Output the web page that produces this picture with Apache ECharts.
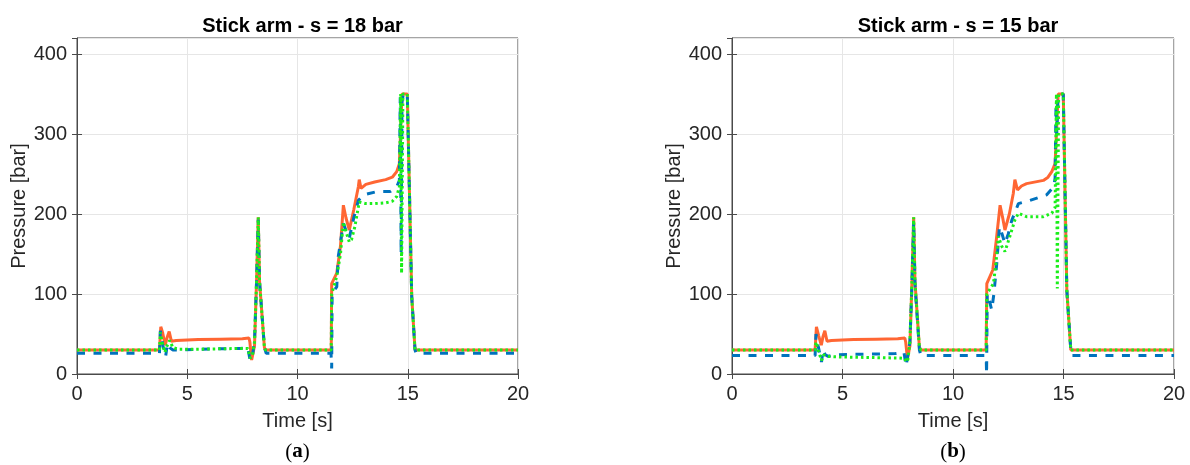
<!DOCTYPE html>
<html>
<head>
<meta charset="utf-8">
<script src="https://cdn.jsdelivr.net/npm/echarts@6/dist/echarts.min.js"></script>
<style>html,body{margin:0;padding:0;background:#fff;}#chart{width:1190px;height:465px;}</style>
</head>
<body>
<div id="chart"></div>
<script>
// ---- Tick labels / axes ----
const xTicks = [0, 5, 10, 15, 20];
const yTicks = [0, 100, 200, 300, 400];
const titles = ['Stick arm - s = 18 bar', 'Stick arm - s = 15 bar'];
const panelTags = ['a', 'b'];

// ---- (a) s = 18 bar ----
const aOrangeT = [0, 3.74, 3.8, 3.88, 4.0, 4.08, 4.18, 4.28, 4.5, 5.5, 6.5, 7.5, 7.8, 7.84, 7.92, 8.05, 8.14, 8.22, 8.28, 8.5, 8.55, 11.53, 11.55, 11.78, 11.95, 12.08, 12.2, 12.35, 12.55, 12.76, 12.8, 12.88, 13.1, 13.5, 14.0, 14.3, 14.5, 14.62, 14.74, 14.98, 15.18, 15.33, 20];
const aOrangeP = [30, 30, 59, 52, 36, 45, 53, 41, 42, 43, 43.5, 44, 45, 40, 17.5, 35, 113, 196, 115, 33, 30, 30, 113, 126, 160, 211, 195, 180, 205, 234, 243, 232, 237, 240, 243, 246, 253, 263, 350, 350, 97, 30, 30];

const aBlueT = [0, 3.74, 3.78, 3.9, 4.02, 4.1, 4.2, 4.35, 4.6, 5.5, 6.5, 7.4, 7.75, 7.85, 7.95, 8.05, 8.14, 8.22, 8.28, 8.5, 8.58, 11.52, 11.55, 11.57, 11.65, 11.78, 11.85, 12.08, 12.22, 12.35, 12.55, 12.76, 13.0, 13.6, 14.2, 14.5, 14.62, 14.66, 14.7, 14.74, 14.8, 14.98, 15.18, 15.33, 15.38, 20];
const aBlueP = [26, 26, 54, 35, 22, 38, 33, 30, 30, 31, 31.5, 32, 33, 17, 22, 40, 113, 193, 115, 33, 26, 26, 7, 101, 104, 109, 147, 188, 178, 170, 195, 217, 224, 228, 228, 234, 242, 346, 150, 340, 350, 350, 97, 30, 26, 26];

const aGreenT = [0, 3.74, 3.78, 3.86, 3.98, 4.08, 4.2, 4.35, 4.6, 5.5, 6.5, 7.5, 7.75, 7.85, 7.95, 8.05, 8.14, 8.22, 8.28, 8.5, 8.55, 11.53, 11.55, 11.78, 11.95, 12.08, 12.2, 12.35, 12.45, 12.6, 12.8, 13.1, 13.5, 14.0, 14.3, 14.5, 14.62, 14.68, 14.72, 14.78, 14.98, 15.18, 15.33, 20];
const aGreenP = [30, 30, 52, 40, 27, 35, 42, 33, 31, 31, 31.5, 32, 32, 20, 22, 40, 113, 196, 115, 33, 30, 30, 100, 122, 150, 190, 178, 165, 168, 184, 215, 213, 213, 214, 216, 222, 234, 350, 126, 350, 350, 97, 30, 30];

// ---- (b) s = 15 bar ----
const bOrangeT = [0, 3.76, 3.82, 3.92, 4.04, 4.12, 4.2, 4.3, 4.5, 5.5, 6.5, 7.5, 7.82, 7.86, 7.94, 8.05, 8.14, 8.22, 8.28, 8.48, 8.55, 11.5, 11.53, 11.8, 11.95, 12.13, 12.25, 12.35, 12.55, 12.73, 12.8, 12.92, 13.1, 13.33, 14.09, 14.3, 14.47, 14.62, 14.76, 14.99, 15.15, 15.33, 20];
const bOrangeP = [30, 30, 59, 48, 36, 47, 54, 41, 42, 43, 43.5, 44, 45, 40, 19, 35, 113, 196, 115, 33, 30, 30, 113, 130, 165, 211, 195, 180, 200, 226, 243, 230, 235, 238, 242, 246, 253, 263, 350, 350, 105, 30, 30];

const bBlueT = [0, 3.76, 3.8, 3.9, 4.05, 4.12, 4.22, 4.35, 4.6, 5.5, 6.5, 7.4, 7.78, 7.88, 7.96, 8.05, 8.14, 8.22, 8.28, 8.48, 8.55, 11.5, 11.52, 11.55, 11.62, 11.75, 11.85, 11.98, 12.1, 12.22, 12.35, 12.5, 12.66, 12.96, 13.48, 14.24, 14.56, 14.62, 14.66, 14.7, 14.74, 14.8, 14.99, 15.15, 15.33, 15.38, 20];
const bBlueP = [23, 23, 50, 35, 15, 30, 24, 22, 24, 24.5, 25, 25.5, 27, 10, 12, 40, 110, 190, 112, 30, 23, 23, 0, 100, 95, 80, 100, 138, 184, 175, 163, 175, 192, 213, 217, 224, 234, 245, 336, 300, 340, 350, 350, 105, 30, 23, 23];

const bGreenT = [0, 3.76, 3.8, 3.9, 4.05, 4.15, 4.3, 4.6, 5.5, 6.5, 7.5, 7.8, 7.9, 7.96, 8.05, 8.14, 8.22, 8.28, 8.48, 8.55, 11.5, 11.53, 11.83, 11.95, 12.05, 12.2, 12.35, 12.55, 12.8, 12.96, 13.33, 14.09, 14.47, 14.62, 14.68, 14.72, 14.78, 14.99, 15.15, 15.33, 20];
const bGreenP = [30, 30, 40, 30, 17, 24, 22, 21.5, 21, 20.5, 20, 19.5, 15, 18, 40, 113, 196, 115, 33, 30, 30, 100, 113, 140, 172, 160, 153, 170, 192.5, 201, 196.6, 196.6, 201, 208, 350, 107, 350, 350, 105, 30, 30];

const FONT = 'Liberation Sans, Arial, sans-serif';
const COL_ORANGE = '#ff6633';
const COL_BLUE = '#0072bd';
const COL_GREEN = '#1aee1a';

function pairs(t, p) { return t.map((v, i) => [v, p[i]]); }

const grids = [
  { left: 77, top: 38, width: 441, height: 336 },
  { left: 732, top: 38, width: 442, height: 336 }
];

const xAxes = [], yAxes = [], series = [], titleArr = [], graphics = [];
const panels = [
  { o: [aOrangeT, aOrangeP], b: [aBlueT, aBlueP], g: [aGreenT, aGreenP] },
  { o: [bOrangeT, bOrangeP], b: [bBlueT, bBlueP], g: [bGreenT, bGreenP] }
];

grids.forEach((g, i) => {
  g.show = true; g.borderColor = '#4a4a4a'; g.borderWidth = 1; g.backgroundColor = '#fff'; g.containLabel = false;
  const cx = g.left + g.width / 2;
  xAxes.push({
    type: 'value', gridIndex: i, min: xTicks[0], max: xTicks[xTicks.length - 1], interval: xTicks[1] - xTicks[0],
    name: 'Time [s]', nameLocation: 'middle', nameGap: 37,
    nameTextStyle: { fontFamily: FONT, fontSize: 20, color: '#262626' },
    axisLine: { show: true, onZero: false, lineStyle: { color: '#4a4a4a', width: 1 } },
    axisTick: { show: true, inside: true, length: 5, lineStyle: { color: '#4a4a4a' } },
    axisLabel: { fontFamily: FONT, fontSize: 20, color: '#262626', margin: 10 },
    splitLine: { show: true, lineStyle: { color: '#e6e6e6', width: 1 } }
  });
  xAxes.push({
    type: 'value', gridIndex: i, position: 'top', min: xTicks[0], max: xTicks[xTicks.length - 1], interval: xTicks[1] - xTicks[0],
    axisLine: { show: false }, axisTick: { show: true, inside: true, length: 5, lineStyle: { color: '#4a4a4a' } },
    axisLabel: { show: false }, splitLine: { show: false }
  });
  yAxes.push({
    type: 'value', gridIndex: i, min: yTicks[0], max: 420, interval: yTicks[1] - yTicks[0],
    name: 'Pressure [bar]', nameLocation: 'middle', nameGap: 47,
    nameTextStyle: { fontFamily: FONT, fontSize: 20, color: '#262626' },
    axisLine: { show: true, onZero: false, lineStyle: { color: '#4a4a4a', width: 1 } },
    axisTick: { show: true, inside: true, length: 5, lineStyle: { color: '#4a4a4a' } },
    axisLabel: { fontFamily: FONT, fontSize: 20, color: '#262626', margin: 10, showMaxLabel: false,
      formatter: v => (yTicks.indexOf(v) >= 0 ? String(v) : '') },
    splitLine: { show: true, lineStyle: { color: '#e6e6e6', width: 1 } }
  });
  yAxes.push({
    type: 'value', gridIndex: i, position: 'right', min: yTicks[0], max: 420, interval: yTicks[1] - yTicks[0],
    axisLine: { show: false }, axisTick: { show: true, inside: true, length: 5, lineStyle: { color: '#4a4a4a' } },
    axisLabel: { show: false }, splitLine: { show: false }
  });
  const xi = i * 2, yi = i * 2;
  const P = panels[i];
  series.push({
    type: 'line', xAxisIndex: xi, yAxisIndex: yi, data: pairs(P.o[0], P.o[1]), showSymbol: false, symbol: 'none',
    lineStyle: { color: COL_ORANGE, width: 3 }, z: 2, animation: false
  });
  series.push({
    type: 'line', xAxisIndex: xi, yAxisIndex: yi, data: pairs(P.b[0], P.b[1]), showSymbol: false, symbol: 'none',
    lineStyle: { color: COL_BLUE, width: 3, type: [8, 8.5] }, z: 3, animation: false
  });
  series.push({
    type: 'line', xAxisIndex: xi, yAxisIndex: yi, data: pairs(P.g[0], P.g[1]), showSymbol: false, symbol: 'none',
    lineStyle: { color: COL_GREEN, width: 3, type: [2.5, 3] }, z: 4, animation: false
  });
  titleArr.push({
    text: titles[i], left: cx, top: 11, textAlign: 'center',
    textStyle: { fontFamily: FONT, fontSize: 20, fontWeight: 'bold', color: '#000' }
  });
  graphics.push({
    type: 'text', x: cx, y: 452,
    style: {
      text: '{n|(}{b|' + panelTags[i] + '}{n|)}', textAlign: 'center', textVerticalAlign: 'middle',
      rich: {
        n: { fontFamily: 'Liberation Serif, DejaVu Serif, serif', fontSize: 21, fill: '#000', color: '#000' },
        b: { fontFamily: 'Liberation Serif, DejaVu Serif, serif', fontSize: 21, fontWeight: 'bold', fill: '#000', color: '#000' }
      }
    }
  });
});

const chart = echarts.init(document.getElementById('chart'), null, { renderer: 'canvas' });
chart.setOption({
  animation: false,
  backgroundColor: '#fff',
  title: titleArr,
  grid: grids,
  xAxis: xAxes,
  yAxis: yAxes,
  series: series,
  graphic: graphics
});
</script>
</body>
</html>
